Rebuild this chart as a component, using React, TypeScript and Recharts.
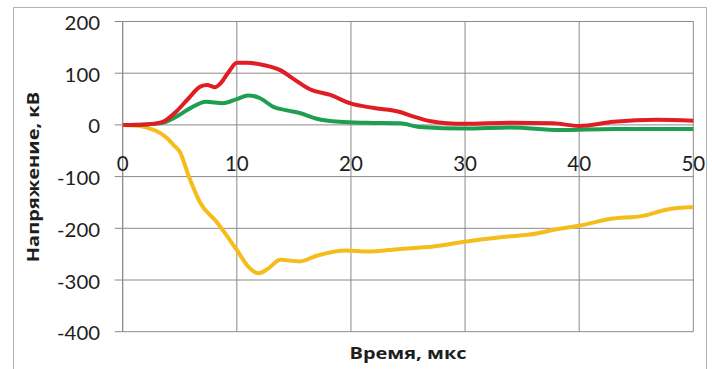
import React from "react";
import { LineChart, Line, XAxis, YAxis, CartesianGrid } from "recharts";

// Time samples (µs) and voltage (kV) for each trace
const redTime = [0, 2, 3.5, 4.7, 5.8, 6.8, 7.4, 8.1, 8.6, 9.3, 10, 10.9, 12.3, 13.8, 14.9, 16.4, 18.2, 19.9, 21.9, 24.3, 25.5, 27, 28.4, 30, 34, 37.7, 40, 43, 46.8, 50];
const redVolt = [0, 1, 6, 26, 52, 74, 77, 73, 81, 103, 120, 120, 116, 106, 90, 69, 58, 42, 33, 25, 16, 7, 3, 2, 4, 3, -2, 6, 10, 8];

const greenTime = [0, 2, 3.5, 4.7, 5.9, 7.3, 8.8, 10, 11, 12, 13.2, 14.4, 15.5, 17, 19, 21.4, 24.3, 26, 30, 34, 38.3, 43, 50];
const greenVolt = [0, 1, 4, 16, 32, 45, 42, 50, 57, 52, 35, 28, 23, 12, 6, 4, 3, -4, -7, -5, -10, -8, -8];

const yellowTime = [0, 1.5, 2.5, 3.3, 3.9, 4.5, 5, 5.8, 6.8, 8.2, 10, 11, 11.9, 12.8, 13.8, 15.5, 17, 19.6, 21.4, 24.3, 27.2, 30, 33.3, 36.3, 38, 40, 42.7, 45.6, 47.6, 50];
const yellowVolt = [0, -2, -8, -16, -26, -40, -52, -100, -151, -187, -242, -274, -287, -277, -261, -264, -253, -243, -245, -240, -235, -226, -217, -210, -202, -195, -182, -176, -164, -159];

const xTicks = [0, 10, 20, 30, 40, 50];
const yTicks = [200, 100, 0, -100, -200, -300, -400];

const xTitle = "Время, мкс";
const yTitle = "Напряжение, кВ";

const toPoints = (ts: number[], vs: number[]) => ts.map((t, i) => ({ t, v: vs[i] }));
const redData = toPoints(redTime, redVolt);
const greenData = toPoints(greenTime, greenVolt);
const yellowData = toPoints(yellowTime, yellowVolt);

const W = 712;
const H = 369;
const PLOT_LEFT = 122.7;
const PLOT_RIGHT = 693.3;
const PLOT_TOP = 21.5;
const PLOT_BOTTOM = 331.7;
const X_AXIS_H = 20;
const Y_MIN = -400;
const Y_MAX = 200;
const ZERO_Y = PLOT_TOP + ((Y_MAX - 0) / (Y_MAX - Y_MIN)) * (PLOT_BOTTOM - PLOT_TOP);

const GRID = "#8a8a8a";
const TEXT = "#1e1e1e";

// Category labels sit just under the zero line, as the horizontal axis crosses at 0
const XTick = (props: any) => {
  const { x, payload } = props;
  return (
    <text
      x={x}
      y={ZERO_Y + 46.5}
      textAnchor="middle"
      fontFamily="Lato, 'Open Sans', sans-serif"
      fontSize={20.5}
      fill={TEXT}
    >
      {payload.value}
    </text>
  );
};

const YTick = (props: any) => {
  const { y, payload } = props;
  return (
    <g transform={`translate(100, ${y})`}>
      <text
        x={0}
        y={8.5}
        textAnchor="end"
        transform="scale(1.1,1)"
        fontFamily="Lato, 'Open Sans', sans-serif"
        fontSize={18.5}
        fill={TEXT}
      >
        {payload.value}
      </text>
    </g>
  );
};

export default function App() {
  return (
    <div
      style={{
        position: "absolute",
        left: 0,
        top: 0,
        width: W,
        height: H,
        overflow: "hidden",
        background: "#ffffff",
      }}
    >
      <div
        style={{
          position: "absolute",
          left: 13,
          top: 7,
          width: 694,
          height: 400,
          border: "1px solid #b4b4b4",
          boxSizing: "border-box",
        }}
      />
      <div style={{ position: "absolute", left: 0, top: 0 }}>
        <LineChart
          width={W}
          height={H}
          margin={{
            top: PLOT_TOP,
            right: W - PLOT_RIGHT,
            bottom: H - PLOT_BOTTOM - X_AXIS_H,
            left: PLOT_LEFT - 100,
          }}
        >
          <CartesianGrid stroke={GRID} strokeWidth={1} />
          <XAxis
            type="number"
            dataKey="t"
            domain={[0, 50]}
            ticks={xTicks}
            axisLine={false}
            tickLine={false}
            tick={XTick}
            height={X_AXIS_H}
            interval={0}
          />
          <YAxis
            type="number"
            domain={[Y_MIN, Y_MAX]}
            ticks={yTicks}
            width={100}
            axisLine={{ stroke: GRID }}
            tickLine={{ stroke: GRID }}
            tickSize={8}
            tick={YTick}
            interval={0}
          />
          <Line
            data={yellowData}
            dataKey="v"
            type="monotone"
            stroke="#f5bd1c"
            strokeWidth={4}
            dot={false}
            isAnimationActive={false}
          />
          <Line
            data={greenData}
            dataKey="v"
            type="monotone"
            stroke="#1f9e52"
            strokeWidth={4}
            dot={false}
            isAnimationActive={false}
          />
          <Line
            data={redData}
            dataKey="v"
            type="monotone"
            stroke="#e01d22"
            strokeWidth={4}
            dot={false}
            isAnimationActive={false}
          />
        </LineChart>
      </div>
      <div
        style={{
          position: "absolute",
          left: 408 - 150,
          top: 353 - 11,
          width: 300,
          height: 22,
          lineHeight: "22px",
          textAlign: "center",
          fontFamily: "'Open Sans', sans-serif",
          fontWeight: 700,
          fontSize: 16,
          color: TEXT,
          transform: "scaleX(1.25)",
        }}
      >
        {xTitle}
      </div>
      <div
        style={{
          position: "absolute",
          left: 33 - 150,
          top: 177 - 11,
          width: 300,
          height: 22,
          lineHeight: "22px",
          textAlign: "center",
          fontFamily: "'Open Sans', sans-serif",
          fontWeight: 700,
          fontSize: 16,
          color: TEXT,
          transform: "rotate(-90deg) scaleX(1.25)",
        }}
      >
        {yTitle}
      </div>
    </div>
  );
}
